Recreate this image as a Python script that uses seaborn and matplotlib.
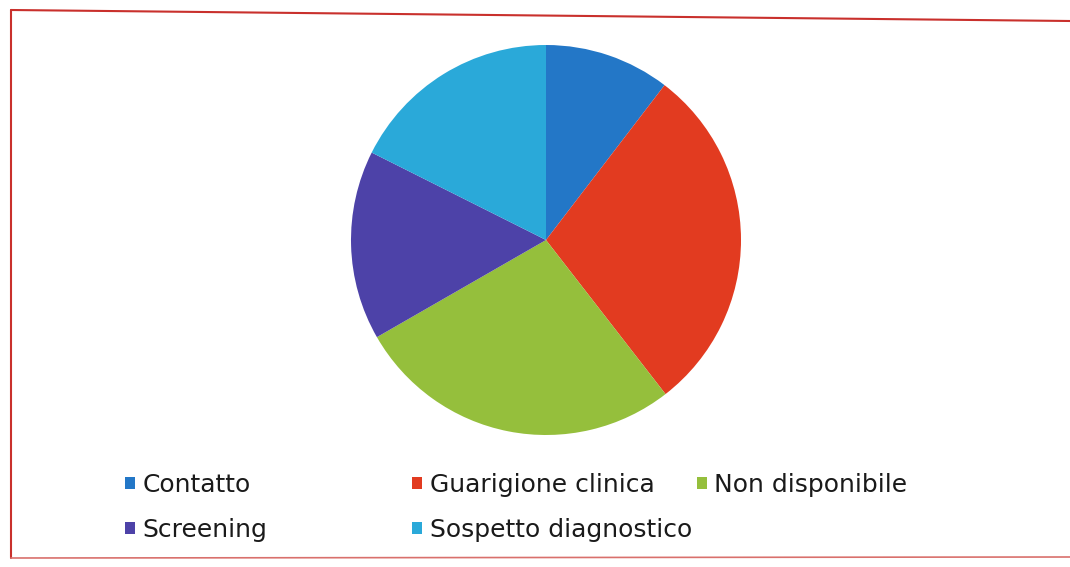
import matplotlib
matplotlib.use("Agg")
import matplotlib.pyplot as plt
from matplotlib.patches import Patch
from matplotlib.lines import Line2D
import seaborn as sns

# categories and shares (percent)
categories = ["Contatto", "Guarigione clinica", "Non disponibile",
              "Screening", "Sospetto diagnostico"]
shares = [10.4, 29.1, 27.2, 15.7, 17.6]
colors = ["#2377C7", "#E23B20", "#95BF3C", "#4D42A8", "#2AA9D9"]

sns.set_theme(style="white")
plt.rcParams["font.family"] = ["DejaVu Sans"]

W, H = 1070, 567
fig = plt.figure(figsize=(W / 100, H / 100), dpi=100)
fig.patch.set_facecolor("white")

# pie axes: centre (546, 240) px, radius 195 px
cx, cy, r = 546, 240, 195
ax = fig.add_axes([(cx - r) / W, (H - cy - r) / H, 2 * r / W, 2 * r / H])
ax.pie(shares, colors=colors, startangle=90, counterclock=False,
       wedgeprops=dict(linewidth=0))
ax.set_xlim(-1, 1); ax.set_ylim(-1, 1)
ax.set_aspect("equal")
ax.axis("off")

# legend: three columns placed separately
cols = [[0, 3], [1, 4], [2]]
col_x = [125, 412, 697]
for idx, x in zip(cols, col_x):
    handles = [Patch(facecolor=colors[i], edgecolor="none") for i in idx]
    labels = [categories[i] for i in idx]
    fig.legend(handles, labels, loc="upper left",
               bbox_to_anchor=(x / W, 1 - 473 / H),
               frameon=False, fontsize=18, handlelength=0.4, handleheight=0.4,
               handletextpad=0.3, labelspacing=0.84, borderpad=0,
               borderaxespad=0, labelcolor="#1a1a1a")

# scanned red frame (slightly skewed)
frame = "#C9302C"
fig.add_artist(Line2D([11 / W, 1.0], [1 - 10 / H, 1 - 21 / H], color=frame, lw=1.5))
fig.add_artist(Line2D([11 / W, 11 / W], [1 - 10 / H, 1 - 558 / H], color=frame, lw=1.5))
fig.add_artist(Line2D([11 / W, 1.0], [1 - 558 / H, 1 - 557 / H], color="#D9706C", lw=1.2))

fig.savefig("out.png", dpi=100, facecolor="white")
